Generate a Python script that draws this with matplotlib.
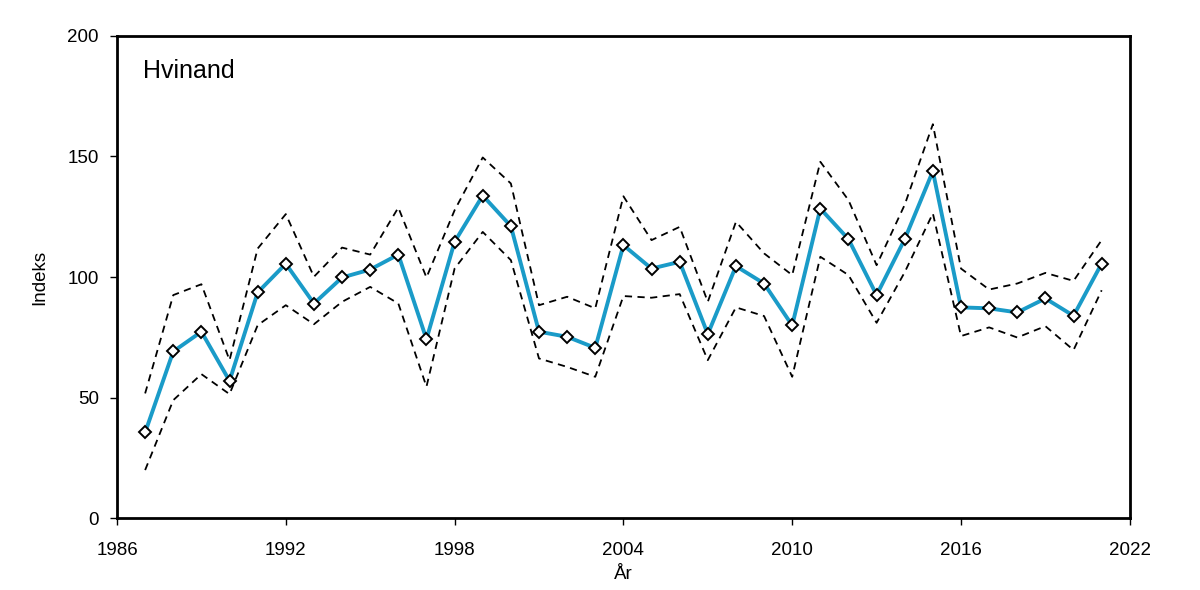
import numpy as np
import matplotlib.pyplot as plt
plt.rcParams['font.family'] = ['Liberation Sans', 'DejaVu Sans']

years = list(range(1987, 2022))
indeks = [35.5, 69.1, 77.3, 56.9, 93.6, 105.5, 89.0, 99.8, 103.1, 109.3,
          74.2, 114.6, 133.8, 121.1, 77.3, 75.2, 70.6, 113.2, 103.5, 106.3,
          76.3, 104.5, 97.3, 79.9, 128.4, 115.7, 92.5, 115.7, 143.9, 87.4,
          87.0, 85.3, 91.1, 83.9, 105.6]
upper = [51.7, 92.5, 97.0, 65.5, 111.8, 126.1, 100.1, 112.2, 109.3, 128.8,
         99.8, 127.7, 149.6, 138.8, 88.3, 91.8, 87.0, 133.5, 115.3, 120.8,
         89.7, 122.9, 109.8, 100.8, 147.8, 131.9, 104.9, 130.0, 163.4, 103.5,
         94.8, 97.3, 101.7, 98.4, 115.3]
lower = [19.9, 48.9, 59.7, 51.4, 80.0, 88.3, 80.4, 89.7, 95.9, 89.0,
         54.5, 103.5, 118.7, 107.0, 66.2, 62.7, 58.6, 92.1, 91.4, 92.9,
         65.5, 87.4, 83.8, 58.6, 108.4, 100.8, 81.0, 102.0, 126.4, 75.5,
         79.1, 74.9, 79.6, 69.7, 94.5]

fig = plt.figure(figsize=(12, 5.9), dpi=100)
ax = fig.add_axes([0.0975, 0.122, 0.844, 0.817])

ax.plot(years, upper, color='black', lw=1.3, ls=(0, (4, 3)))
ax.plot(years, lower, color='black', lw=1.3, ls=(0, (4, 3)))
ax.plot(years, indeks, color='#1a9bc8', lw=2.8, marker='D', markersize=6.5,
        markerfacecolor='white', markeredgecolor='black', markeredgewidth=1.4,
        zorder=3)

ax.set_xlim(1986, 2022)
ax.set_ylim(0, 200)
ax.set_xticks(range(1986, 2023, 6))
ax.set_yticks([0, 50, 100, 150, 200])
for s in ax.spines.values():
    s.set_linewidth(2)
ax.tick_params(direction='out', length=5, width=1, labelsize=13.5)
ax.tick_params(axis='x', pad=12)
ax.tick_params(axis='y', pad=8)

ax.set_xlabel('År', fontsize=13.5, labelpad=5)
ax.set_ylabel('Indeks', fontsize=13.5, labelpad=14)
ax.text(0.026, 0.913, 'Hvinand', transform=ax.transAxes, fontsize=18,
        ha='left', va='baseline')

plt.savefig('out.png')
